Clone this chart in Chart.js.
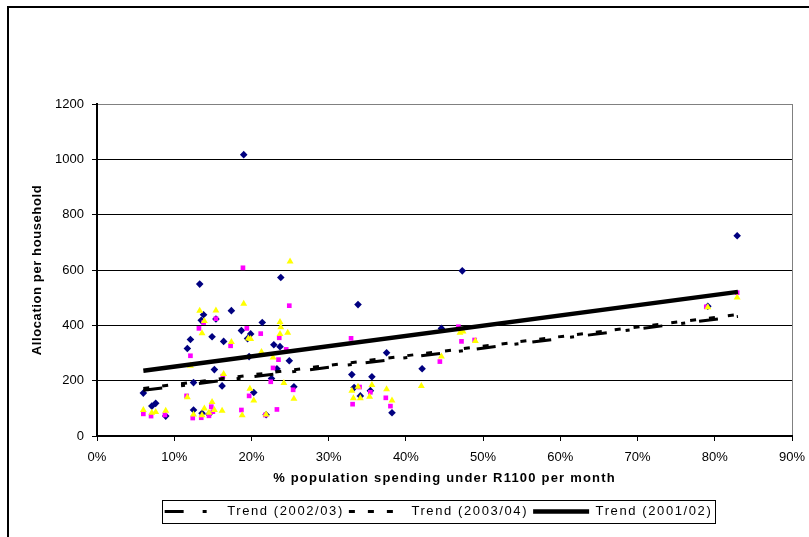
<!DOCTYPE html>
<html>
<head>
<meta charset="utf-8">
<script src="https://cdn.jsdelivr.net/npm/chart.js"></script>
<style>
  body { margin: 0; background: #fff; }
  #marco { position: relative; width: 809px; height: 537px; overflow: hidden; }
  #borde { position: absolute; left: 7px; top: 6px; width: 900px; height: 700px;
           border-left: 2px solid #000; border-top: 2px solid #000; }
  #grafico { position: absolute; left: 0; top: 0; }
</style>
</head>
<body>
<div id="marco">
  <div id="borde"></div>
  <canvas id="grafico" width="809" height="537"></canvas>
</div>
<script>
// % de poblacion que gasta menos de R1100 al mes (eje x) y asignacion por hogar (eje y)
const x0102 = [19.0, 13.3, 13.8, 13.5, 17.4, 15.4, 14.9, 12.1, 11.7, 16.4, 18.7, 19.9, 19.5, 19.7, 21.4, 23.8,
  22.9, 23.7, 23.3, 24.9, 15.2, 12.5, 16.2, 20.3, 22.6, 25.5, 6.0, 7.1, 7.6, 8.9, 12.5, 13.6, 14.5, 21.9,
  47.3, 33.8, 44.6, 37.5, 42.1, 33.0, 35.6, 33.3, 35.4, 34.1, 38.2, 82.9, 79.1];
const y0102 = [1017, 549, 438, 418, 453, 423, 359, 349, 316, 342, 381, 369, 352, 287, 410, 573,
  330, 323, 243, 272, 240, 193, 181, 157, 208, 178, 155, 108, 118, 72, 94, 82, 79, 77,
  597, 475, 389, 301, 243, 222, 214, 175, 164, 145, 84, 724, 469];

const x0203 = [18.9, 24.9, 15.4, 13.8, 13.2, 19.4, 21.2, 12.1, 17.3, 23.6, 24.5, 23.5, 22.8, 16.3, 22.5, 25.4,
  11.6, 19.7, 14.8, 6.0, 7.0, 8.8, 12.4, 13.5, 14.5, 18.7, 21.8, 23.3, 15.0,
  32.9, 46.8, 47.2, 48.9, 44.4, 35.4, 33.1, 37.4, 38.0, 34.0, 82.9, 78.9];
const y0203 = [608, 471, 424, 410, 389, 389, 370, 290, 326, 355, 313, 276, 246, 216, 196, 167,
  145, 145, 106, 80, 72, 76, 65, 66, 73, 94, 76, 96, 88,
  353, 395, 342, 347, 269, 158, 115, 138, 108, 177, 518, 467];

const x0304 = [25.0, 19.0, 13.3, 15.4, 13.9, 13.6, 23.7, 23.8, 23.7, 24.7, 19.6, 19.9, 17.4, 21.3, 22.8, 12.1,
  16.4, 24.2, 19.8, 20.3, 25.5, 14.9, 11.7, 6.0, 7.1, 7.6, 8.9, 12.5, 13.9, 13.6, 15.2, 14.5, 16.2, 18.8, 21.9,
  47.0, 47.4, 49.0, 44.6, 42.0, 33.8, 33.0, 35.6, 37.5, 33.2, 34.1, 35.3, 38.2, 82.9, 79.1];
const y0304 = [631, 478, 453, 454, 416, 371, 412, 393, 369, 373, 352, 351, 340, 304, 284, 254,
  224, 192, 171, 128, 135, 123, 140, 94, 84, 87, 91, 78, 99, 75, 94, 84, 91, 75, 78,
  373, 378, 343, 287, 181, 178, 164, 184, 169, 136, 136, 142, 128, 501, 465];

// lineas de tendencia: extremos
const xTendencia = [6, 83];
const tendencia0102 = [236, 521];
const tendencia0203 = [165, 432];
const tendencia0304 = [172, 439];

const ticksX = [0, 10, 20, 30, 40, 50, 60, 70, 80, 90];
const ticksY = [0, 200, 400, 600, 800, 1000, 1200];

function puntos(xs, ys) {
  return xs.map((x, i) => ({ x: x, y: ys[i] }));
}

// aplica espaciado de letras mientras corre un metodo del grafico
function conEspaciado(obj, metodo, espacio, despues) {
  const original = obj[metodo];
  obj[metodo] = function (...args) {
    const ctx = this.ctx;
    const previo = ctx.letterSpacing;
    ctx.letterSpacing = espacio;
    const r = original.apply(this, args);
    ctx.letterSpacing = previo;
    if (despues) despues.call(this);
    return r;
  };
}

const espaciado = {
  id: 'espaciado',
  afterInit(chart) {
    conEspaciado(chart.legend, 'fit', '1.6px', function () { this.height = 37; });
    conEspaciado(chart.legend, 'draw', '1.6px');
  },
  beforeLayout(chart) {
    const sx = chart.scales.x, sy = chart.scales.y;
    if (sx && !sx._espaciado) { conEspaciado(sx, 'drawTitle', '1.2px'); sx._espaciado = true; }
    if (sy && !sy._espaciado) { conEspaciado(sy, 'drawTitle', '0.6px'); sy._espaciado = true; }
  },
  afterLayout(chart) {
    // la leyenda va un poco a la izquierda del centro del area de trazado
    chart.legend.left -= 6;
    chart.legend.right -= 6;
  }
};

// recuadro alrededor de la leyenda
const cajaLeyenda = {
  id: 'cajaLeyenda',
  afterDraw(chart) {
    const cajas = chart.legend.legendHitBoxes;
    if (!cajas || !cajas.length) return;
    const izq = Math.min(...cajas.map(c => c.left)) - 3;
    const der = Math.max(...cajas.map(c => c.left + c.width)) + 2;
    const arriba = chart.legend.top;
    const ctx = chart.ctx;
    ctx.save();
    ctx.strokeStyle = '#000';
    ctx.lineWidth = 1;
    ctx.strokeRect(Math.round(izq) + 0.5, arriba + 0.5, Math.round(der - izq), 23);
    ctx.restore();
  }
};

// la leyenda toma el trazo (grosor y guiones) de cada linea de tendencia
function etiquetasTendencia(chart) {
  return Chart.defaults.plugins.legend.labels.generateLabels(chart).map(item => {
    const ds = chart.data.datasets[item.datasetIndex];
    item.lineDash = ds.borderDash || [];
    item.lineWidth = ds.borderWidth;
    item.strokeStyle = ds.borderColor;
    return item;
  });
}

const fuente = "'Liberation Sans', Arial, sans-serif";

new Chart(document.getElementById('grafico'), {
  type: 'scatter',
  data: {
    datasets: [
      {
        label: 'Trend (2002/03)',
        data: puntos(xTendencia, tendencia0203),
        showLine: true, borderColor: '#000', borderWidth: 3, borderDash: [19, 19, 4, 14],
        pointRadius: 0, fill: false
      },
      {
        label: 'Trend (2003/04)',
        data: puntos(xTendencia, tendencia0304),
        showLine: true, borderColor: '#000', borderWidth: 3, borderDash: [6, 13],
        pointRadius: 0, fill: false
      },
      {
        label: 'Trend (2001/02)',
        data: puntos(xTendencia, tendencia0102),
        showLine: true, borderColor: '#000', borderWidth: 4.5,
        pointRadius: 0, fill: false
      },
      {
        label: '2003/04',
        data: puntos(x0304, y0304),
        pointStyle: 'triangle', pointRadius: 4, backgroundColor: '#FFFF00', borderWidth: 0
      },
      {
        label: '2002/03',
        data: puntos(x0203, y0203),
        pointStyle: 'rect', pointRadius: 3.3, backgroundColor: '#FF00FF', borderWidth: 0
      },
      {
        label: '2001/02',
        data: puntos(x0102, y0102),
        pointStyle: 'rectRot', pointRadius: 3.8, backgroundColor: '#000080', borderWidth: 0
      }
    ]
  },
  options: {
    responsive: false,
    animation: false,
    layout: { padding: { top: 104, right: 17, bottom: 0, left: 0 } },
    scales: {
      x: {
        type: 'linear',
        min: 0,
        max: 90,
        afterBuildTicks: s => { s.ticks = ticksX.map(v => ({ value: v })); },
        afterFit: s => { s.height = 64; s.paddingLeft = 0; s.paddingRight = 0; },
        ticks: { callback: v => v + '%', maxRotation: 0, autoSkip: false, padding: 9,
                 color: '#000', font: { family: fuente, size: 13 } },
        grid: {
          color: c => (c.tick && c.tick.value === 90) ? '#808080' : 'rgba(0,0,0,0)',
          tickColor: '#000', tickLength: 5, lineWidth: 1
        },
        border: { color: '#000', width: 2 },
        title: {
          display: true, text: '% population spending under R1100 per month', color: '#000',
          font: { family: fuente, size: 13, weight: 'bold' }, padding: { top: 0, bottom: 14 }
        }
      },
      y: {
        min: 0,
        max: 1200,
        afterBuildTicks: s => { s.ticks = ticksY.map(v => ({ value: v })); },
        afterFit: s => { s.width = 97; s.paddingTop = 0; s.paddingBottom = 0; },
        ticks: { callback: v => String(v), padding: 8, color: '#000', font: { family: fuente, size: 13 } },
        grid: {
          color: c => (c.tick && c.tick.value === 1200) ? '#808080' : '#000',
          tickColor: '#000', tickLength: 5, lineWidth: 1
        },
        border: { color: '#000', width: 2 },
        title: {
          display: true, text: 'Allocation per household', color: '#000',
          font: { family: fuente, size: 13, weight: 'bold' }, padding: { top: 30, bottom: 0 }
        }
      }
    },
    plugins: {
      tooltip: { enabled: false },
      legend: {
        position: 'bottom',
        fullSize: false,
        labels: {
          filter: item => item.datasetIndex < 3,
          generateLabels: etiquetasTendencia,
          usePointStyle: true,
          pointStyle: 'line',
          pointStyleWidth: 56,
          padding: 5,
          color: '#000',
          font: { family: fuente, size: 13 }
        }
      }
    }
  },
  plugins: [espaciado, cajaLeyenda]
});
</script>
</body>
</html>
